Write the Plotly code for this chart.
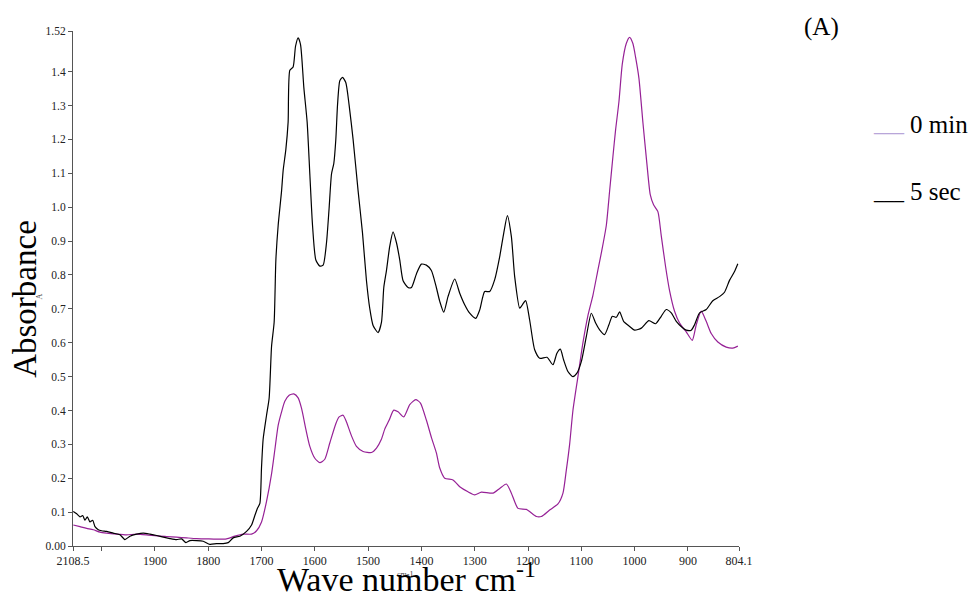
import plotly.graph_objects as go

# ---------------- data ----------------
wn_5sec = [2053.2, 2046.8, 2040.6, 2035.6, 2031.3, 2026.9, 2021.9, 2016.8, 2012.5, 2006.3,
           2000.0, 1990.6, 1978.2, 1965.6, 1956.3, 1946.9, 1934.3, 1921.9, 1909.4, 1896.8,
           1884.4, 1871.9, 1859.4, 1850.0, 1841.9, 1834.4, 1821.8, 1809.4, 1796.9, 1784.4,
           1771.9, 1762.6, 1753.2, 1740.6, 1728.1, 1718.7, 1712.5, 1708.0, 1703.1, 1700.0,
           1697.0, 1690.6, 1685.7, 1681.2, 1676.3, 1673.1, 1668.8, 1662.4, 1659.4, 1654.4,
           1650.1, 1646.9, 1640.7, 1636.2, 1631.3, 1626.8, 1620.6, 1614.4, 1609.4, 1604.3,
           1598.1, 1590.6, 1584.4, 1578.1, 1573.2, 1568.7, 1564.4, 1560.6, 1557.4, 1553.1,
           1548.1, 1541.9, 1535.7, 1528.2, 1518.8, 1510.6, 1503.1, 1496.9, 1490.7, 1481.3,
           1474.9, 1470.6, 1465.6, 1459.4, 1453.2, 1446.8, 1440.6, 1434.4, 1425.1, 1418.7,
           1409.4, 1400.1, 1390.7, 1381.3, 1372.0, 1365.6, 1358.1, 1350.1, 1337.5, 1328.1,
           1318.8, 1309.4, 1298.1, 1290.6, 1281.3, 1271.9, 1262.5, 1253.1, 1245.6, 1238.7,
           1231.2, 1225.0, 1215.6, 1210.6, 1204.4, 1196.9, 1187.5, 1178.1, 1164.4, 1153.2,
           1145.7, 1139.3, 1133.1, 1125.1, 1115.7, 1108.2, 1100.0, 1090.6, 1081.2, 1073.1,
           1065.6, 1056.3, 1048.2, 1041.8, 1034.4, 1028.1, 1020.6, 1009.4, 1000.0, 987.4,
           973.2, 960.6, 950.0, 940.6, 931.2, 921.8, 910.6, 903.1, 893.7, 887.5,
           878.1, 865.6, 853.2, 840.6, 831.3, 821.9, 812.5, 806.3]
abs_5sec = [0.102, 0.095, 0.086, 0.090, 0.076, 0.086, 0.071, 0.076, 0.057, 0.048,
            0.045, 0.043, 0.038, 0.033, 0.019, 0.029, 0.035, 0.038, 0.035, 0.031,
            0.026, 0.022, 0.019, 0.021, 0.010, 0.016, 0.016, 0.014, 0.005, 0.007,
            0.007, 0.010, 0.024, 0.029, 0.043, 0.062, 0.090, 0.110, 0.126, 0.233,
            0.315, 0.386, 0.437, 0.589, 0.661, 0.844, 0.946, 1.048, 1.109, 1.170,
            1.251, 1.404, 1.414, 1.475, 1.500, 1.480, 1.353, 1.251, 1.098, 0.946,
            0.844, 0.826, 0.829, 0.895, 0.997, 1.098, 1.129, 1.200, 1.302, 1.373,
            1.383, 1.368, 1.302, 1.200, 1.048, 0.925, 0.783, 0.701, 0.651, 0.630,
            0.661, 0.763, 0.813, 0.885, 0.927, 0.895, 0.844, 0.783, 0.763, 0.763,
            0.803, 0.832, 0.829, 0.813, 0.763, 0.722, 0.690, 0.736, 0.788, 0.746,
            0.712, 0.687, 0.672, 0.697, 0.751, 0.751, 0.786, 0.854, 0.923, 0.975,
            0.913, 0.795, 0.702, 0.712, 0.724, 0.667, 0.579, 0.554, 0.557, 0.535,
            0.569, 0.581, 0.549, 0.515, 0.500, 0.510, 0.544, 0.618, 0.687, 0.658,
            0.638, 0.624, 0.653, 0.678, 0.675, 0.691, 0.663, 0.648, 0.637, 0.643,
            0.665, 0.656, 0.678, 0.698, 0.688, 0.663, 0.645, 0.637, 0.637, 0.653,
            0.688, 0.698, 0.724, 0.736, 0.749, 0.784, 0.810, 0.833]

wn_0min = [2053.2, 2040.6, 2028.1, 2015.7, 2003.1, 1990.6, 1971.8, 1953.1, 1934.3, 1915.6,
           1896.8, 1878.1, 1859.4, 1840.6, 1821.8, 1803.1, 1784.4, 1765.6, 1750.0, 1734.4,
           1718.7, 1709.3, 1700.0, 1690.6, 1681.2, 1675.0, 1668.8, 1662.4, 1656.3, 1648.2,
           1639.4, 1631.3, 1624.9, 1616.9, 1609.4, 1600.0, 1590.6, 1581.3, 1571.9, 1560.6,
           1554.4, 1546.9, 1540.6, 1531.2, 1521.9, 1509.4, 1493.7, 1484.3, 1475.1, 1468.8,
           1460.7, 1451.9, 1443.8, 1433.1, 1421.9, 1410.6, 1401.8, 1390.6, 1381.2, 1371.8,
           1365.6, 1356.3, 1340.7, 1328.1, 1312.6, 1300.0, 1287.4, 1265.7, 1253.1, 1240.6,
           1231.2, 1218.8, 1203.1, 1184.3, 1175.0, 1159.4, 1143.8, 1134.4, 1128.1, 1121.9,
           1115.7, 1106.3, 1096.9, 1087.6, 1078.2, 1068.8, 1062.4, 1053.1, 1046.9, 1040.7,
           1035.6, 1029.4, 1023.1, 1015.6, 1009.4, 1003.2, 998.1, 991.9, 984.4, 976.9,
           970.6, 964.4, 956.3, 950.0, 941.9, 934.4, 925.0, 915.6, 903.1, 891.8,
           884.3, 875.0, 865.6, 856.2, 843.8, 828.1, 815.7, 806.3]
abs_0min = [0.062, 0.057, 0.052, 0.048, 0.041, 0.038, 0.035, 0.033, 0.035, 0.033,
            0.030, 0.028, 0.026, 0.024, 0.022, 0.021, 0.020, 0.021, 0.029, 0.035,
            0.035, 0.045, 0.071, 0.132, 0.213, 0.284, 0.356, 0.396, 0.427, 0.445,
            0.449, 0.437, 0.406, 0.345, 0.294, 0.259, 0.246, 0.256, 0.304, 0.361,
            0.381, 0.386, 0.366, 0.325, 0.294, 0.279, 0.276, 0.289, 0.315, 0.345,
            0.371, 0.401, 0.396, 0.381, 0.417, 0.432, 0.422, 0.371, 0.320, 0.274,
            0.230, 0.200, 0.195, 0.175, 0.160, 0.151, 0.159, 0.156, 0.170, 0.183,
            0.156, 0.111, 0.108, 0.087, 0.087, 0.106, 0.124, 0.156, 0.224, 0.300,
            0.400, 0.500, 0.600, 0.680, 0.740, 0.815, 0.865, 0.946, 1.047, 1.149,
            1.229, 1.311, 1.422, 1.483, 1.501, 1.483, 1.442, 1.381, 1.250, 1.128,
            1.037, 1.007, 0.987, 0.916, 0.825, 0.754, 0.693, 0.658, 0.632, 0.607,
            0.653, 0.693, 0.663, 0.627, 0.602, 0.587, 0.584, 0.590]

series_names = ["0 min", "5 sec"]
series_colors = ["#962196", "#000000"]

x_tick_vals = [2053.75, 2000, 1900, 1800, 1700, 1600, 1500, 1400, 1300, 1200, 1100, 1000, 900, 804.1]
x_tick_text = ["2108.5", "", "1900", "1800", "1700", "1600", "1500", "1400", "1300", "1200",
               "1100", "1000", "900", "804.1"]
y_tick_vals = [0, 0.1, 0.2, 0.3, 0.4, 0.5, 0.6, 0.7, 0.8, 0.9, 1.0, 1.1, 1.2, 1.3, 1.4, 1.52]
y_tick_text = ["0.00", "0.1", "0.2", "0.3", "0.4", "0.5", "0.6", "0.7", "0.8", "0.9",
               "1.0", "1.1", "1.2", "1.3", "1.4", "1.52"]

SERIF = "Liberation Serif"

fig = go.Figure()
fig.add_trace(go.Scatter(x=wn_0min, y=abs_0min, mode="lines", name=series_names[0],
                         line=dict(color=series_colors[0], width=1.2, shape="spline", smoothing=0.6)))
fig.add_trace(go.Scatter(x=wn_5sec, y=abs_5sec, mode="lines", name=series_names[1],
                         line=dict(color=series_colors[1], width=1.2, shape="spline", smoothing=0.6)))

axis_common = dict(showgrid=False, zeroline=False, showline=True, linecolor="#555555",
                   linewidth=1, ticks="outside", ticklen=4, tickcolor="#555555",
                   tickfont=dict(family=SERIF, size=12, color="#222222"))

fig.update_xaxes(range=[x_tick_vals[0], x_tick_vals[-1]], tickmode="array",
                 tickvals=x_tick_vals, ticktext=x_tick_text, **axis_common)
fig.update_yaxes(range=[y_tick_vals[0], y_tick_vals[-1]], tickmode="array",
                 tickvals=y_tick_vals, ticktext=y_tick_text, **axis_common)
fig.update_yaxes(tickfont=dict(family=SERIF, size=11.5, color="#222222"))

annotations = [
    dict(text="Absorbance", xref="paper", yref="paper", x=0, y=0.48, xshift=-48,
         textangle=-90, showarrow=False, xanchor="center", yanchor="middle",
         font=dict(family=SERIF, size=33, color="#000000")),
    dict(text="A", xref="paper", yref="paper", x=0, y=0.4835, xshift=-40,
         textangle=-90, showarrow=False, font=dict(family=SERIF, size=8, color="#444444")),
    dict(text="cm-1", xref="paper", yref="paper", x=0.4985, y=0, yshift=-28,
         showarrow=False, yanchor="middle", font=dict(family=SERIF, size=8, color="#444444")),
    dict(text="Wave number cm<sup>-1</sup>", xref="paper", yref="paper", x=0.5, y=0,
         yshift=-31, showarrow=False, xanchor="center", yanchor="middle",
         font=dict(family=SERIF, size=34, color="#000000")),
    dict(text="(A)", xref="paper", yref="paper", x=1.1246, y=1.0078, showarrow=False,
         xanchor="center", yanchor="middle", font=dict(family=SERIF, size=25, color="#000000")),
]
legend_y = [0.8194, 0.6874]
underline_colors = ["#b8a6d9", "#000000"]
for name, ly, uc in zip(series_names, legend_y, underline_colors):
    annotations.append(dict(text="___", xref="paper", yref="paper", x=1.1982, y=ly,
                            xanchor="left", yanchor="middle", showarrow=False,
                            font=dict(family=SERIF, size=20, color=uc)))
    annotations.append(dict(text=name, xref="paper", yref="paper", x=1.2538, y=ly,
                            xanchor="left", yanchor="middle", showarrow=False,
                            font=dict(family=SERIF, size=25, color="#000000")))

fig.update_layout(width=977, height=600, margin=dict(l=73, r=238, t=31, b=54),
                  plot_bgcolor="white", paper_bgcolor="white", showlegend=False,
                  font=dict(family=SERIF), annotations=annotations)

fig.write_html("out.html", config={"displayModeBar": False},
               post_script="document.body.style.margin='0';document.body.style.padding='0';")
